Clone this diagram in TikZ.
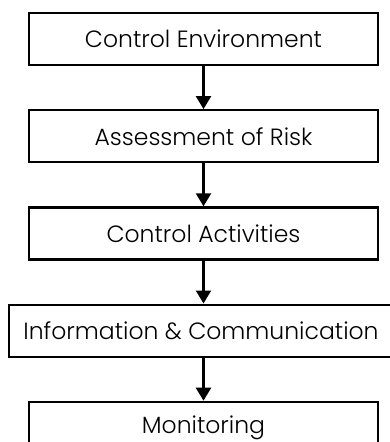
\documentclass[tikz,border=0pt]{standalone}
\usepackage{fontspec}
\setmainfont{Poppins Light}
\usetikzlibrary{positioning, arrows.meta}

\begin{document}
\begin{tikzpicture}[x=1pt, y=1pt, node distance=43pt]

	\tikzstyle{stage}=[draw, line width=2.2pt, minimum width=349pt, minimum height=52pt, font=\fontsize{23.5}{26}\selectfont, inner sep=0pt]
	\tikzstyle{wide}=[minimum width=384pt, xshift=-2.5pt]

	\tikzstyle{flow}=[-{Triangle[width=15pt, length=13pt]}, line width=2.2pt]

	\useasboundingbox (0,0) rectangle (390,-442);

	\node[stage] (environment) at (203.5,-39) {Control Environment};
	\node[stage, below=of environment] (risk) {Assessment of Risk};
	\node[stage, below=of risk] (activities) {Control Activities};
	\node[stage, wide, below=of activities] (information) {Information \& Communication};
	\node[stage, below=of information, xshift=2.5pt] (monitoring) {Monitoring};

	\draw[flow] (environment) -- (risk);
	\draw[flow] (risk) -- (activities);
	\draw[flow] (activities) -- (information.north -| activities.south);
	\draw[flow] (information.south -| activities.south) -- (monitoring);

\end{tikzpicture}
\end{document}
